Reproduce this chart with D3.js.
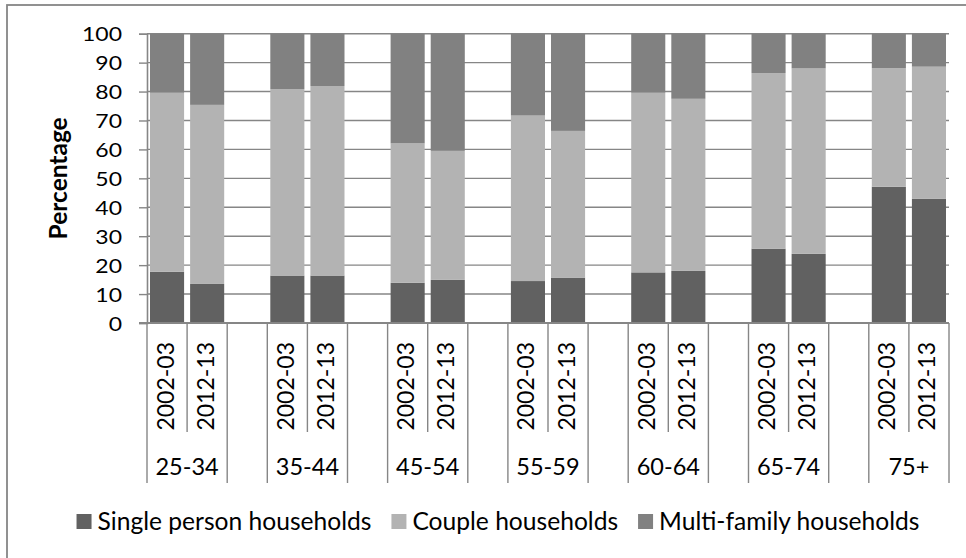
<!DOCTYPE html>
<html>
<head>
<meta charset="utf-8">
<script src="https://cdn.jsdelivr.net/npm/d3@7"></script>
<style>
  html, body { margin: 0; padding: 0; background: #ffffff; }
  svg { display: block; font-family: Lato, "Open Sans", sans-serif; }
</style>
</head>
<body>
<svg id="chart" width="966" height="558"></svg>
<script>
// Household composition by age group of the reference person, two survey years (%)
const ageGroups = ["25-34", "35-44", "45-54", "55-59", "60-64", "65-74", "75+"];
const periods = ["2002-03", "2012-13"];
const seriesNames = ["Single person households", "Couple households", "Multi-family households"];

const single_2002_03 = [17.7, 16.4, 13.9, 14.5, 17.5, 25.7, 47.1];
const couple_2002_03 = [61.9, 64.4, 48.2, 57.2, 62.1, 60.7, 41.0];
const multi_2002_03  = [20.4, 19.2, 37.9, 28.3, 20.4, 13.6, 11.9];

const single_2012_13 = [13.5, 16.4, 14.9, 15.7, 18.0, 23.9, 42.9];
const couple_2012_13 = [61.9, 65.5, 44.6, 50.7, 59.5, 64.1, 45.7];
const multi_2012_13  = [24.6, 18.1, 40.5, 33.6, 22.5, 12.0, 11.4];

const yTicks = [0, 10, 20, 30, 40, 50, 60, 70, 80, 90, 100];
const yTitle = "Percentage";

const colors = ["#616161", "#b3b3b3", "#818181"];
const gridColor = "#868686";

// rows for the stack layout, one per bar
const byPeriod = {
  "2002-03": [single_2002_03, couple_2002_03, multi_2002_03],
  "2012-13": [single_2012_13, couple_2012_13, multi_2012_13]
};
const rows = [];
ageGroups.forEach((g, i) => {
  periods.forEach(p => {
    const s = byPeriod[p];
    rows.push({ key: g + "|" + p, group: g, period: p, s0: s[0][i], s1: s[1][i], s2: s[2][i] });
  });
});

// slot keys: two bars per age group plus an empty slot between groups
const slots = [];
ageGroups.forEach((g, i) => {
  periods.forEach(p => slots.push(g + "|" + p));
  if (i < ageGroups.length - 1) slots.push(g + "|gap");
});

const svg = d3.select("#chart");
const margin = { left: 147, right: 949, top: 33.7, bottom: 323 };

const x = d3.scaleBand().domain(slots).range([margin.left, margin.right])
  .paddingInner(0.15).paddingOuter(0.075);
const step = x.step();
const slotLeft = k => margin.left + slots.indexOf(k) * step;

const y = d3.scaleLinear().domain([0, 100]).range([margin.bottom, margin.top]);

// outer chart border
svg.append("rect")
  .attr("x", 7).attr("y", 5).attr("width", 1000).attr("height", 600)
  .attr("fill", "none").attr("stroke", gridColor).attr("stroke-width", 1.8);

// horizontal gridlines
svg.append("g")
  .selectAll("line").data(yTicks.filter(t => t > 0)).join("line")
  .attr("x1", margin.left).attr("x2", margin.right)
  .attr("y1", d => y(d)).attr("y2", d => y(d))
  .attr("stroke", gridColor).attr("stroke-width", 1.4);

// stacked bars
const stack = d3.stack().keys(["s0", "s1", "s2"]);
const layers = stack(rows);
svg.append("g").selectAll("g").data(layers).join("g")
  .attr("fill", (d, i) => colors[i])
  .selectAll("rect").data(d => d).join("rect")
  .attr("x", d => x(d.data.key))
  .attr("width", x.bandwidth())
  .attr("y", d => y(d[1]))
  .attr("height", d => y(d[0]) - y(d[1]));

// y axis
const yAxis = svg.append("g")
  .attr("transform", `translate(${margin.left},0)`)
  .call(d3.axisLeft(y).tickValues(yTicks).tickSize(8).tickPadding(0).tickFormat(d3.format("d")));
yAxis.select(".domain").attr("stroke", gridColor).attr("stroke-width", 1.6);
yAxis.selectAll(".tick line").attr("stroke", gridColor).attr("stroke-width", 1.4);
yAxis.selectAll(".tick text")
  .attr("x", 0).attr("dy", "0.36em")
  .attr("fill", "#000").attr("font-size", 20)
  .attr("font-family", "Lato, sans-serif")
  .attr("transform", "translate(-25,0) scale(1.15,1)");

// x axis baseline
svg.append("line")
  .attr("x1", margin.left - 8).attr("x2", margin.right)
  .attr("y1", y(0)).attr("y2", y(0))
  .attr("stroke", gridColor).attr("stroke-width", 1.8);

// category divider lines: long at group boundaries, short between the two periods
const boundaries = d3.range(slots.length + 1);
svg.append("g").selectAll("line").data(boundaries).join("line")
  .attr("x1", i => margin.left + i * step).attr("x2", i => margin.left + i * step)
  .attr("y1", y(0))
  .attr("y2", i => (i % 3 === 1 ? 432 : 483))
  .attr("stroke", gridColor).attr("stroke-width", 1.4);

// period labels (rotated)
svg.append("g").selectAll("text").data(rows).join("text")
  .attr("transform", d => `translate(${slotLeft(d.key) + step / 2 + 6.5},342) rotate(-90)`)
  .attr("text-anchor", "end")
  .attr("font-size", 23)
  .attr("fill", "#000")
  .text(d => d.period);

// age group labels
svg.append("g").selectAll("text").data(ageGroups).join("text")
  .attr("x", g => slotLeft(g + "|2002-03") + step)
  .attr("y", 475)
  .attr("text-anchor", "middle")
  .attr("font-size", 23.5)
  .attr("fill", "#000")
  .text(g => g);

// y axis title
svg.append("text")
  .attr("transform", `translate(66.5,${(margin.top + margin.bottom) / 2}) rotate(-90)`)
  .attr("text-anchor", "middle")
  .attr("font-weight", "bold")
  .attr("font-size", 24.5)
  .attr("fill", "#000")
  .text(yTitle);

// legend, centred under the chart
const legend = svg.append("g");
const items = legend.selectAll("g").data(seriesNames).join("g");
items.append("rect").attr("width", 15).attr("height", 15).attr("y", 514)
  .attr("fill", (d, i) => colors[i]);
items.append("text").attr("x", 21).attr("y", 529.5)
  .attr("font-size", 24.6).attr("fill", "#000").text(d => d);
let cursor = 0;
const widths = [];
items.each(function () {
  const w = 21 + d3.select(this).select("text").node().getComputedTextLength();
  widths.push(w);
});
const totalW = d3.sum(widths) + 20 * (widths.length - 1);
cursor = 498 - totalW / 2;
items.attr("transform", (d, i) => {
  const t = `translate(${cursor},0)`;
  cursor += widths[i] + 20;
  return t;
});
</script>
</body>
</html>
